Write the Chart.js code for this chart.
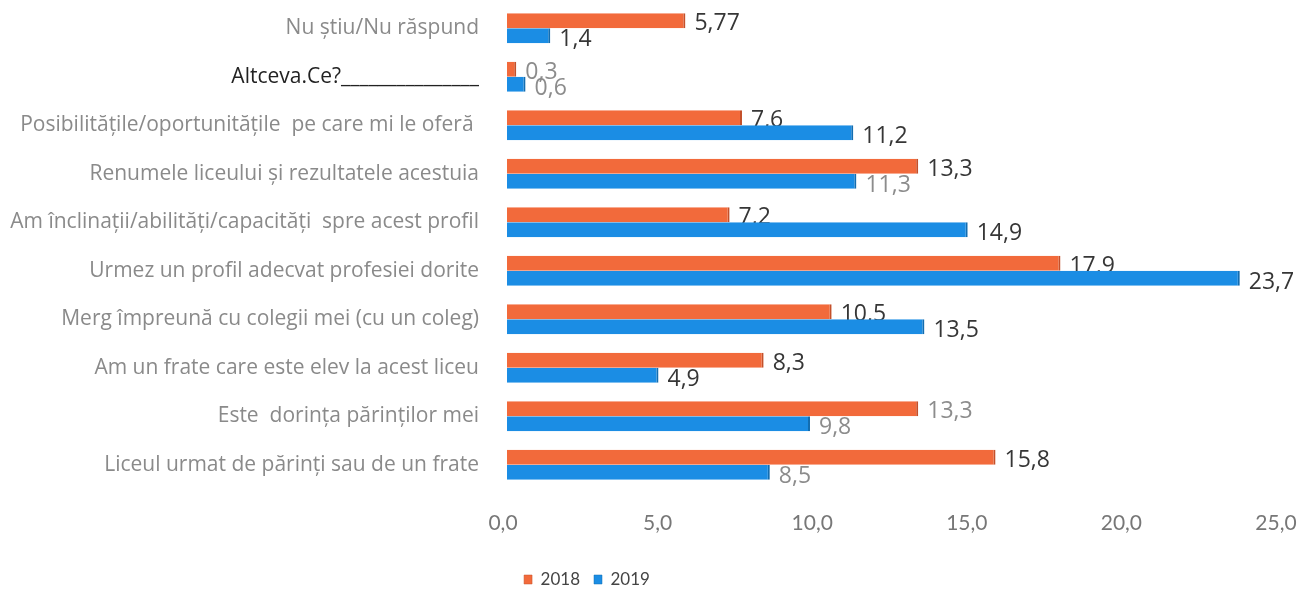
<!DOCTYPE html>
<html>
<head>
<meta charset="utf-8">
<script src="https://cdn.jsdelivr.net/npm/chart.js@4.4.0/dist/chart.umd.min.js"></script>
<style>
  html, body { margin: 0; padding: 0; background: #fff; }
  #wrap { width: 1311px; height: 592px; }
</style>
</head>
<body>
<div id="wrap"><canvas id="myChart" width="1311" height="592"></canvas></div>

<script>
// categories, top to bottom
var categories = [
    'Nu știu/Nu răspund',
    'Altceva.Ce?_______________',
    'Posibilitățile/oportunitățile  pe care mi le oferă ',
    'Renumele liceului și rezultatele acestuia',
    'Am înclinații/abilități/capacități  spre acest profil',
    'Urmez un profil adecvat profesiei dorite',
    'Merg împreună cu colegii mei (cu un coleg)',
    'Am un frate care este elev la acest liceu',
    'Este  dorința părinților mei',
    'Liceul urmat de părinți sau de un frate'
];
var values2018 = [5.77, 0.3, 7.6, 13.3, 7.2, 17.9, 10.5, 8.3, 13.3, 15.8];
var values2019 = [1.4, 0.6, 11.2, 11.3, 14.9, 23.7, 13.5, 4.9, 9.8, 8.5];
var seriesNames = ['2018', '2019'];

// value labels that came out faint in the original
var faint2018 = [1, 8];
var faint2019 = [1, 3, 8, 9];

var labelFont = '"Open Sans", sans-serif';
var tickFont = 'Lato, sans-serif';

// draws the value next to each bar, with a decimal comma.
// drawn before the bars so the blue bar hides part of an orange label, as in the original
var valueLabels = {
    id: 'valueLabels',
    beforeDatasetsDraw: function(chart) {
        var ctx = chart.ctx;
        ctx.save();
        ctx.font = '23px ' + labelFont;
        ctx.textAlign = 'left';
        ctx.textBaseline = 'middle';
        chart.data.datasets.forEach(function(ds, i) {
            var faint = i === 0 ? faint2018 : faint2019;
            var meta = chart.getDatasetMeta(i);
            meta.data.forEach(function(bar, j) {
                var txt = String(ds.data[j]).replace('.', ',');
                ctx.fillStyle = faint.indexOf(j) >= 0 ? '#8c8c8c' : '#363636';
                ctx.fillText(txt, bar.x + 9, bar.y + (i === 0 ? 3 : 4));
            });
        });
        ctx.restore();
    }
};

// moves the legend a little left of the page centre and a bit lower, like the original
var legendShift = {
    id: 'legendShift',
    afterLayout: function(chart) {
        chart.legend.right = chart.legend.right - 106;
        chart.legend.top = chart.legend.top + 6;
        chart.legend.bottom = chart.legend.bottom + 6;
    }
};

var ctx = document.getElementById('myChart').getContext('2d');
var myChart = new Chart(ctx, {
    type: 'bar',
    data: {
        labels: categories,
        datasets: [{
            label: seriesNames[0],
            data: values2018,
            backgroundColor: '#F26A3B',
            borderColor: '#C4502A',
            borderWidth: { top: 0, bottom: 0, left: 0, right: 2 }
        }, {
            label: seriesNames[1],
            data: values2019,
            backgroundColor: '#1B8DE4',
            borderColor: '#136DB0',
            borderWidth: { top: 0, bottom: 0, left: 0, right: 2 }
        }]
    },
    options: {
        indexAxis: 'y',
        responsive: false,
        animation: false,
        layout: { padding: { top: 4, right: 31, left: 0, bottom: 0 } },
        categoryPercentage: 0.62,
        barPercentage: 1.0,
        scales: {
            x: {
                min: 0,
                max: 25,
                grid: { display: false, drawTicks: false },
                border: { display: false },
                ticks: {
                    stepSize: 5,
                    padding: 22,
                    labelOffset: -4,
                    color: '#777',
                    font: { family: tickFont, size: 21 },
                    callback: function(v) { return v.toFixed(1).replace('.', ','); }
                },
                afterFit: function(scale) {
                    scale.height = 62;
                    scale.paddingLeft = 0;
                    scale.paddingRight = 0;
                }
            },
            y: {
                grid: { display: false, drawTicks: false },
                border: { display: false },
                ticks: {
                    padding: 28,
                    color: function(c) { return c.index === 1 ? '#222' : '#8a8a8a'; },
                    font: { family: labelFont, size: 21 }
                },
                afterFit: function(scale) {
                    scale.width = 507;
                    scale.paddingTop = 0;
                    scale.paddingBottom = 0;
                }
            }
        },
        plugins: {
            legend: {
                position: 'bottom',
                labels: {
                    boxWidth: 8,
                    boxHeight: 9,
                    padding: 14,
                    color: '#444',
                    font: { family: tickFont, size: 17 }
                }
            },
            tooltip: { enabled: false }
        }
    },
    plugins: [valueLabels, legendShift]
});
</script>
</body>
</html>
